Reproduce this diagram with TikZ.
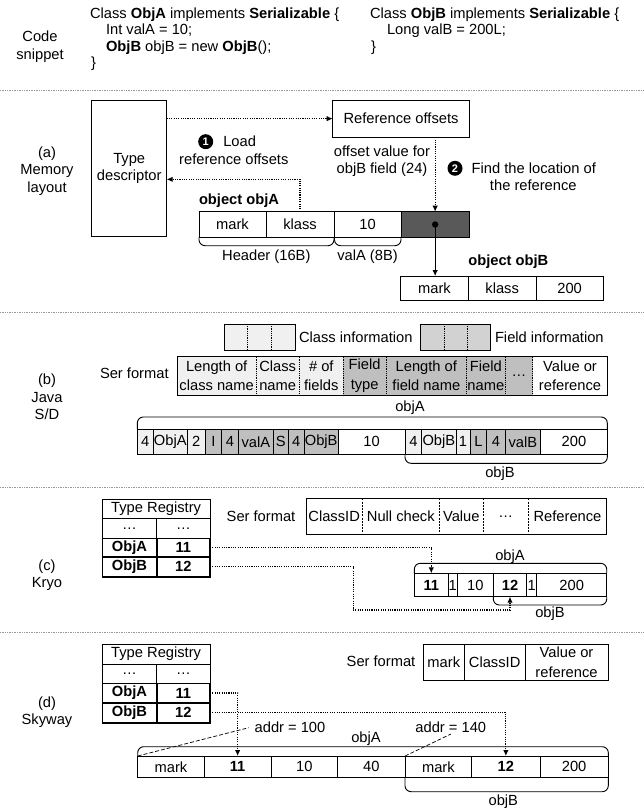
\documentclass[tikz,border=0pt]{standalone}
\usepackage{fontspec}
\setmainfont{Liberation Sans}
\usetikzlibrary{arrows.meta}
\definecolor{clsc}{HTML}{F0F0F0}
\definecolor{fldc}{HTML}{BFBFBF}
\definecolor{fldl}{HTML}{D2D2D2}
\definecolor{darkc}{HTML}{595959}
\definecolor{sepc}{HTML}{999999}
\newcommand{\mycell}[7][]{\node[cell,#1,minimum width={(#4)-(#3)},minimum height={(#6)-(#5)}] (#2) at ({((#3)+(#4))/2},{((#5)+(#6))/2}) {#7};}
\tikzset{
  cell/.style={draw, line width=0.9pt, inner sep=0pt, outer sep=0pt, align=center},
  nodraw/.style={draw=none},
  txt/.style={inner sep=0pt, outer sep=0pt, align=center},
  codeln/.style={inner sep=0pt, outer sep=0pt, anchor=base west},
  dotl/.style={line width=1.1pt, dash pattern=on 1.1pt off 1.2pt},
  dotarrow/.style={dotl, -{Latex[length=6pt,width=5.5pt]}},
  solarrow/.style={line width=0.9pt, -{Latex[length=6pt,width=5.5pt]}},
  sepline/.style={sepc, line width=0.7pt, dash pattern=on 0.7pt off 1pt},
  brk/.style={line width=0.9pt, rounded corners=6pt},
  divdot/.style={line width=0.6pt, dash pattern=on 0.8pt off 1pt},
  divdash/.style={line width=0.6pt, dash pattern=on 2pt off 1.2pt},
  numc/.style={circle, fill=black, text=white, inner sep=0pt, minimum size=15pt, font=\bfseries\fontsize{11}{11}\selectfont},
  bcell/.style={line width=1.6pt, font=\bfseries},
}
\begin{document}
\fontsize{14.7}{17.5}\selectfont
\begin{tikzpicture}[x=1pt,y=-1pt]
\fill[white] (0,0) rectangle (644,810);
\useasboundingbox (0,0) rectangle (644,810);

% ---------- separators
\draw[sepline] (0,90) -- (644,90);
\draw[sepline] (0,312) -- (644,312);
\draw[sepline] (0,487) -- (644,487);
\draw[sepline] (0,632) -- (644,632);

% ---------- code snippet
\node[txt] (lcode) at (40,46.5) {Code\\snippet};
\node[codeln] (c1) at (90,18.5) {Class \textbf{ObjA} implements \textbf{Serializable} \{};
\node[codeln] (c2) at (106,35) {Int valA = 10;};
\node[codeln] (c3) at (106,51.5) {\textbf{ObjB} objB = new \textbf{ObjB}();};
\node[codeln] (c4) at (91,68) {\}};
\node[codeln] (c5) at (370,18.5) {Class \textbf{ObjB} implements \textbf{Serializable} \{};
\node[codeln] (c6) at (387,35) {Long valB = 200L;};
\node[codeln] (c7) at (371,51.5) {\}};

% ---------- (a) memory layout
\node[txt] (la) at (47,171) {(a)\\Memory\\layout};
\mycell{td}{91.7}{166.7}{100}{236.7}{Type\\descriptor}
\mycell{ro}{332.7}{469.3}{100}{137.3}{Reference offsets}
\node[numc] (n1) at (205.7,141.7) {1};
\node[txt,anchor=west] (load) at (223.3,141.7) {Load};
\node[txt] (refoff) at (233.8,159) {reference offsets};
\node[txt] (offv) at (382,161.2) {offset value for\\objB field (24)};
\node[numc] (n2) at (455,168.3) {2};
\node[txt,anchor=west] (findl) at (471.7,168.3) {Find the location of};
\node[txt] (theref) at (533.3,185.7) {the reference};
\node[txt,anchor=west,font=\bfseries] (oA) at (199,201) {object objA};
\mycell{markA}{199}{266}{211.7}{237.3}{mark}
\mycell{klassA}{266}{334}{211.7}{237.3}{klass}
\mycell{tenA}{334}{401}{211.7}{237.3}{10}
\mycell[fill=darkc]{dark}{401}{469.3}{211.7}{237.3}{}
\draw[brk] (199,237.3) -- (199,245.7) -- (334,245.7) -- (334,237.3);
\draw[brk] (334.5,237.3) -- (334.5,245.7) -- (401,245.7) -- (401,237.3);
\node[txt] (hdr) at (266.3,256.7) {Header (16B)};
\node[txt] (vala) at (367.5,256.7) {valA (8B)};
\node[txt,anchor=west,font=\bfseries] (oB) at (468.3,261.7) {object objB};
\mycell{markB}{400.7}{468.3}{276}{300}{mark}
\mycell{klassB}{468.3}{536}{276}{300}{klass}
\mycell{twoB}{536}{603.3}{276}{300}{200}
\draw[dotarrow] (td.east |- ro.west) -- (ro.west);
\draw[dotarrow] (klassA.north) |- ([yshift=-11pt]td.east);
\draw[dotarrow] (ro.south -| dark.north) -- (dark.north);
\fill (dark.center) circle (3.2pt);
\draw[solarrow] (dark.center) -- (dark.center |- markB.north);

% ---------- (b) Java S/D
\node[txt] (lb) at (47,397) {(b)\\Java\\S/D};
\mycell[fill=clsc]{lg1}{224}{295}{324}{350}{}
\draw[divdot] (247.7,324) -- (247.7,350);
\draw[divdot] (271,324) -- (271,350);
\node[txt,anchor=west] (lgt1) at (299,337) {Class information};
\mycell[fill=fldl]{lg2}{420}{490.7}{324}{350}{}
\draw[divdot] (444,324) -- (444,350);
\draw[divdot] (467.7,324) -- (467.7,350);
\node[txt,anchor=west] (lgt2) at (495,337) {Field information};
\node[txt,anchor=west] (serb) at (100,373) {Ser format};
\begin{scope}[font=\fontsize{14.7}{19.5}\selectfont]
\mycell[nodraw,fill=clsc]{s1}{177.3}{256}{356.7}{395}{Length of\\class name}
\mycell[nodraw,fill=clsc]{s2}{256}{299.3}{356.7}{395}{Class\\name}
\mycell[nodraw,fill=clsc]{s3}{299.3}{343.3}{356.7}{395}{\# of\\fields}
\mycell[nodraw,fill=fldc]{s4}{343.3}{386}{356.7}{395}{Field\\type}
\mycell[nodraw,fill=fldc]{s5}{386}{466.7}{356.7}{395}{Length of\\field name}
\mycell[nodraw,fill=fldc]{s6}{466.7}{505}{356.7}{395}{Field\\name}
\mycell[nodraw,fill=fldc]{s7}{505}{532.7}{356.7}{395}{…}
\mycell[nodraw,fill=white]{s8}{532.7}{607.3}{356.7}{395}{Value or\\reference}
\end{scope}
\draw[line width=0.9pt] (s1.north west) rectangle (s8.south east);
\foreach \c in {s1,s2,s3,s4,s5,s6,s7}{\draw[divdot] (\c.north east) -- (\c.south east);}
\node[txt] (objAb) at (410,408) {objA};
\draw[brk] (137.3,429.3) -- (137.3,417) -- (607.3,417) -- (607.3,429.3);
\mycell[fill=clsc]{d1}{137.3}{153.3}{429.3}{454.3}{4}
\mycell[fill=clsc]{d2}{153.3}{187.3}{429.3}{454.3}{ObjA}
\mycell[fill=clsc]{d3}{187.3}{205}{429.3}{454.3}{2}
\mycell[fill=fldc]{d4}{205}{221.7}{429.3}{454.3}{I}
\mycell[fill=fldc]{d5}{221.7}{238.3}{429.3}{454.3}{4}
\mycell[fill=fldc]{d6}{238.3}{273.3}{429.3}{454.3}{valA}
\mycell[fill=fldc]{d7}{273.3}{288.3}{429.3}{454.3}{S}
\mycell[fill=fldc]{d8}{288.3}{304}{429.3}{454.3}{4}
\mycell[fill=fldc]{d9}{304}{338.3}{429.3}{454.3}{ObjB}
\mycell[fill=white]{d10}{338.3}{405}{429.3}{454.3}{10}
\mycell[fill=clsc]{d11}{405}{421.7}{429.3}{454.3}{4}
\mycell[fill=clsc]{d12}{421.7}{456}{429.3}{454.3}{ObjB}
\mycell[fill=clsc]{d13}{456}{470}{429.3}{454.3}{1}
\mycell[fill=fldc]{d14}{470}{486.7}{429.3}{454.3}{L}
\mycell[fill=fldc]{d15}{486.7}{505}{429.3}{454.3}{4}
\mycell[fill=fldc]{d16}{505}{540.7}{429.3}{454.3}{valB}
\mycell[fill=white]{d17}{540.7}{607.3}{429.3}{454.3}{200}
\draw[brk] (405,454.3) -- (405,463.3) -- (607.3,463.3) -- (607.3,454.3);
\node[txt] (objBb) at (500,474) {objB};

% ---------- (c) Kryo
\node[txt] (lc) at (47,575) {(c)\\Kryo};
\mycell{kh}{102.3}{210}{499}{518.3}{Type Registry}
\mycell{kd1}{102.3}{156.7}{518.3}{538.3}{…}
\mycell{kd2}{156.7}{210}{518.3}{538.3}{…}
\mycell[bcell]{kA}{102.3}{156.7}{538.3}{556.7}{ObjA}
\mycell[bcell]{kA11}{156.7}{210}{538.3}{556.7}{11}
\mycell[bcell]{kB}{102.3}{156.7}{556.7}{576.7}{ObjB}
\mycell[bcell]{kB12}{156.7}{210}{556.7}{576.7}{12}
\node[txt,anchor=west] (serc) at (226.7,516.7) {Ser format};
\mycell[nodraw]{k1}{306}{362.3}{498.3}{534.3}{ClassID}
\mycell[nodraw]{k2}{362.3}{439.3}{498.3}{534.3}{Null check}
\mycell[nodraw]{k3}{439.3}{483.3}{498.3}{534.3}{Value}
\mycell[nodraw]{k4}{483.3}{528.3}{498.3}{534.3}{…}
\mycell[nodraw]{k5}{528.3}{606.7}{498.3}{534.3}{Reference}
\draw[line width=0.9pt] (k1.north west) rectangle (k5.south east);
\foreach \c in {k1,k2,k3,k4}{\draw[divdash] (\c.north east) -- (\c.south east);}
\node[txt] (objAc) at (510,556.7) {objA};
\draw[brk] (414.3,573.3) -- (414.3,563.3) -- (606.7,563.3) -- (606.7,573.3);
\mycell[font=\bfseries]{r1}{414.3}{448.3}{573.3}{596.7}{11}
\mycell{r2}{448.3}{457.3}{573.3}{596.7}{1}
\mycell{r3}{457.3}{493.3}{573.3}{596.7}{10}
\mycell[font=\bfseries]{r4}{493.3}{526.7}{573.3}{596.7}{12}
\mycell{r5}{526.7}{536.7}{573.3}{596.7}{1}
\mycell{r6}{536.7}{606.7}{573.3}{596.7}{200}
\draw[brk] (493.3,596.7) -- (493.3,605) -- (606.7,605) -- (606.7,596.7);
\node[txt] (objBc) at (550,613.3) {objB};
\coordinate (kc1) at (353.3,610);
\draw[dotarrow] (kA11.east) -| (r1.north);
\draw[dotarrow] (kB12.east) -| (kc1) -| (r4.south);

% ---------- (d) Skyway
\node[txt] (ld) at (47,712) {(d)\\Skyway};
\mycell{yh}{102.3}{210}{644}{664}{Type Registry}
\mycell{yd1}{102.3}{156.7}{664}{683.3}{…}
\mycell{yd2}{156.7}{210}{664}{683.3}{…}
\mycell[bcell]{yA}{102.3}{156.7}{683.3}{702.7}{ObjA}
\mycell[bcell]{yA11}{156.7}{210}{683.3}{702.7}{11}
\mycell[bcell]{yB}{102.3}{156.7}{702.7}{722.7}{ObjB}
\mycell[bcell]{yB12}{156.7}{210}{702.7}{722.7}{12}
\node[txt,anchor=west] (serd) at (346.7,661.7) {Ser format};
\begin{scope}[font=\fontsize{14.7}{20}\selectfont]
\mycell{f1}{423.3}{464.3}{644}{680}{mark}
\mycell{f2}{464.3}{525}{644}{680}{ClassID}
\mycell{f3}{525}{608}{644}{680}{Value or\\reference}
\end{scope}
\node[txt] (addr1) at (290,727.7) {addr = 100};
\node[txt] (addr2) at (450.8,727.7) {addr = 140};
\node[txt] (objAd) at (366,738.3) {objA};
\draw[brk] (137.7,756) -- (137.7,746.7) -- (608.3,746.7) -- (608.3,756);
\mycell{m1}{137.7}{204.3}{756}{777.5}{mark}
\mycell[font=\bfseries]{m2}{204.3}{271}{756}{777.5}{11}
\mycell{m3}{271}{337.7}{756}{777.5}{10}
\mycell{m4}{337.7}{405}{756}{777.5}{40}
\mycell{m5}{405}{471.7}{756}{777.5}{mark}
\mycell[font=\bfseries]{m6}{471.7}{540}{756}{777.5}{12}
\mycell{m7}{540}{608.3}{756}{777.5}{200}
\draw[brk] (405,777.5) -- (405,791.7) -- (608.3,791.7) -- (608.3,777.5);
\node[txt] (objBd) at (503.3,801.7) {objB};
\draw[line width=0.7pt, dash pattern=on 4pt off 2pt] (m1.north west) -- ([xshift=-6pt]addr1.west);
\draw[line width=0.7pt, dash pattern=on 4pt off 2pt] (m5.north west) -- ([yshift=-1pt]addr2.south);
\draw[dotarrow] (yA11.east) -| (m2.north);
\draw[dotarrow] (yB12.east) -| (m6.north);
\end{tikzpicture}
\end{document}
